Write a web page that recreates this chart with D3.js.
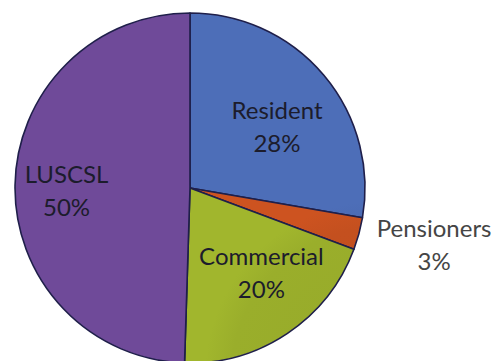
<!DOCTYPE html>
<html>
<head>
<meta charset="utf-8">
<script src="https://cdn.jsdelivr.net/npm/d3@7"></script>
<style>
  html, body { margin: 0; padding: 0; background: #ffffff; }
  svg { display: block; }
</style>
</head>
<body>
<svg id="chart" width="495" height="361"></svg>
<script>
// Share of consumers by category
const categories = ["Resident", "Pensioners", "Commercial", "LUSCSL"];
const shares = [28, 3, 20, 50];
const sliceColors = ["#4a69b0", "#c4501f", "#9aae2b", "#6a4793"];

const width = 495, height = 361;
const cx = 190, cy = 188, radius = 175;

const svg = d3.select("#chart");
const defs = svg.append("defs");

// gentle radial shading, slightly lighter towards the rim
sliceColors.forEach((c, i) => {
  const g = defs.append("radialGradient")
    .attr("id", "shade" + i)
    .attr("gradientUnits", "userSpaceOnUse")
    .attr("cx", cx).attr("cy", cy).attr("r", radius);
  g.append("stop").attr("offset", "0%").attr("stop-color", d3.color(c).darker(0.08));
  g.append("stop").attr("offset", "85%").attr("stop-color", c);
  g.append("stop").attr("offset", "100%").attr("stop-color", d3.color(c).brighter(0.12));
});

const data = categories.map((name, i) => ({ name, value: shares[i], idx: i }));

const pie = d3.pie().sort(null).value(d => d.value).startAngle(0).endAngle(2 * Math.PI);
const arcs = pie(data);

const arc = d3.arc().innerRadius(0).outerRadius(radius);

const g = svg.append("g").attr("transform", `translate(${cx},${cy})`);

g.selectAll("path.slice")
  .data(arcs)
  .join("path")
  .attr("class", "slice")
  .attr("d", arc)
  .attr("fill", d => `url(#shade${d.data.idx})`)
  .attr("stroke", "#1f1f4a")
  .attr("stroke-width", 1.6)
  .attr("stroke-linejoin", "round");

// label placement: radius and small nudges per category
const labelLayout = {
  "Resident":   { r: 0.62,  dx: 4,  dy: 9 },
  "Pensioners": { r: 1.445, dx: 0,  dy: -9 },
  "Commercial": { r: 0.64,  dx: 9,  dy: -8 },
  "LUSCSL":     { r: 0.70,  dx: -1, dy: 5 }
};

const lineGap = 33;

arcs.forEach(d => {
  const lay = labelLayout[d.data.name];
  const la = d3.arc().innerRadius(radius * lay.r).outerRadius(radius * lay.r);
  const [x, y] = la.centroid(d);
  const outside = lay.r > 1;
  const t = g.append("text")
    .attr("text-anchor", "middle")
    .attr("font-family", "Lato, 'Open Sans', sans-serif")
    .attr("font-size", 24)
    .attr("fill", outside ? "#454545" : "#1c1c2c");
  t.append("tspan")
    .attr("x", x + lay.dx)
    .attr("y", y + lay.dy - lineGap / 2)
    .attr("dy", "0.35em")
    .text(d.data.name);
  t.append("tspan")
    .attr("x", x + lay.dx)
    .attr("y", y + lay.dy + lineGap / 2)
    .attr("dy", "0.35em")
    .text(d.data.value + "%");
});
</script>
</body>
</html>
